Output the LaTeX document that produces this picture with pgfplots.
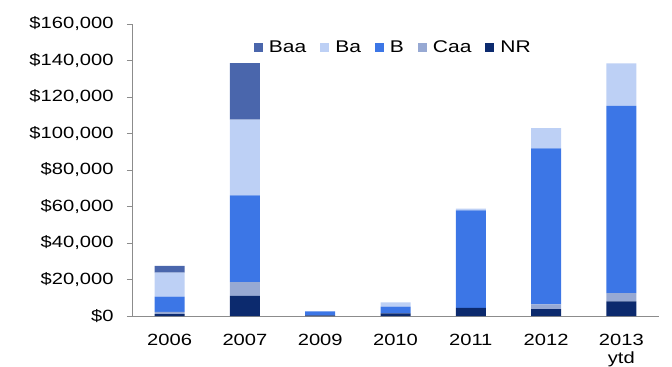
\documentclass[border=0pt]{standalone}
\usepackage{pgfplots}
\pgfplotsset{compat=1.18}
\usepackage{fontspec}
\setmainfont[FakeStretch=1.24]{Liberation Sans}
\definecolor{cBaa}{HTML}{4A66AC}
\definecolor{cBa}{HTML}{BDD0F5}
\definecolor{cB}{HTML}{3C76E6}
\definecolor{cCaa}{HTML}{97A9D3}
\definecolor{cNR}{HTML}{0C2A6E}
\definecolor{axgray}{HTML}{8C8C8C}
\begin{document}
\begin{tikzpicture}
\path[use as bounding box] (-132bp,-51bp) rectangle (540bp,316bp);
\begin{axis}[
  scale only axis,
  width=527bp, height=292bp,
  ybar stacked,
  bar width=30bp,
  xmin=-0.5, xmax=6.5,
  ymin=0, ymax=160000,
  axis x line*=bottom,
  axis y line*=left,
  axis line style={draw=axgray, line width=0.8pt},
  xtick={0,...,6},
  xticklabels={2006,2007,2009,2010,2011,2012,{2013\\ytd}},
  x tick label style={align=center, font=\fontsize{16.3}{18}\selectfont, yshift=-10bp},
  xtick style={draw=none},
  extra x ticks={-0.5,0.5,1.5,2.5,3.5,4.5,5.5,6.5},
  extra x tick labels={},
  extra x tick style={tick style={draw=axgray, line width=0.8pt}, major tick length=5bp, tick align=outside},
  ytick={0,20000,40000,60000,80000,100000,120000,140000,160000},
  yticklabels={{\$0},{\$20,000},{\$40,000},{\$60,000},{\$80,000},{\$100,000},{\$120,000},{\$140,000},{\$160,000}},
  scaled y ticks=false,
  y tick label style={font=\fontsize{16.3}{18}\selectfont, xshift=-10bp},
  ytick style={draw=axgray, line width=0.8pt},
  tick align=outside,
  major tick length=5bp,
  legend columns=5,
  reverse legend,
  legend style={draw=none, fill=none, at={(0.496,0.92)}, anchor=center,
    font=\fontsize{17}{18}\selectfont,
    /tikz/every odd column/.append style={column sep=4bp},
    /tikz/every even column/.append style={column sep=12bp}},
  legend image code/.code={\fill[#1] (0bp,-4.2bp) rectangle (9bp,4.2bp);},
]
\addplot[fill=cNR, draw=none] coordinates {(0,1000) (1,11000) (2,300) (3,1500) (4,4400) (5,3700) (6,8000)};
\addplot[fill=cCaa, draw=none] coordinates {(0,1200) (1,7600) (2,0) (3,0) (4,0) (5,2700) (6,4600)};
\addplot[fill=cB, draw=none] coordinates {(0,8400) (1,47500) (2,2300) (3,3600) (4,53500) (5,85500) (6,102600)};
\addplot[fill=cBa, draw=none] coordinates {(0,13100) (1,41500) (2,0) (3,2400) (4,900) (5,11100) (6,23200)};
\addplot[fill=cBaa, draw=none] coordinates {(0,3700) (1,31000) (2,0) (3,0) (4,0) (5,0) (6,0)};
\legend{NR,Caa,B,Ba,Baa}
\end{axis}
\end{tikzpicture}
\end{document}
